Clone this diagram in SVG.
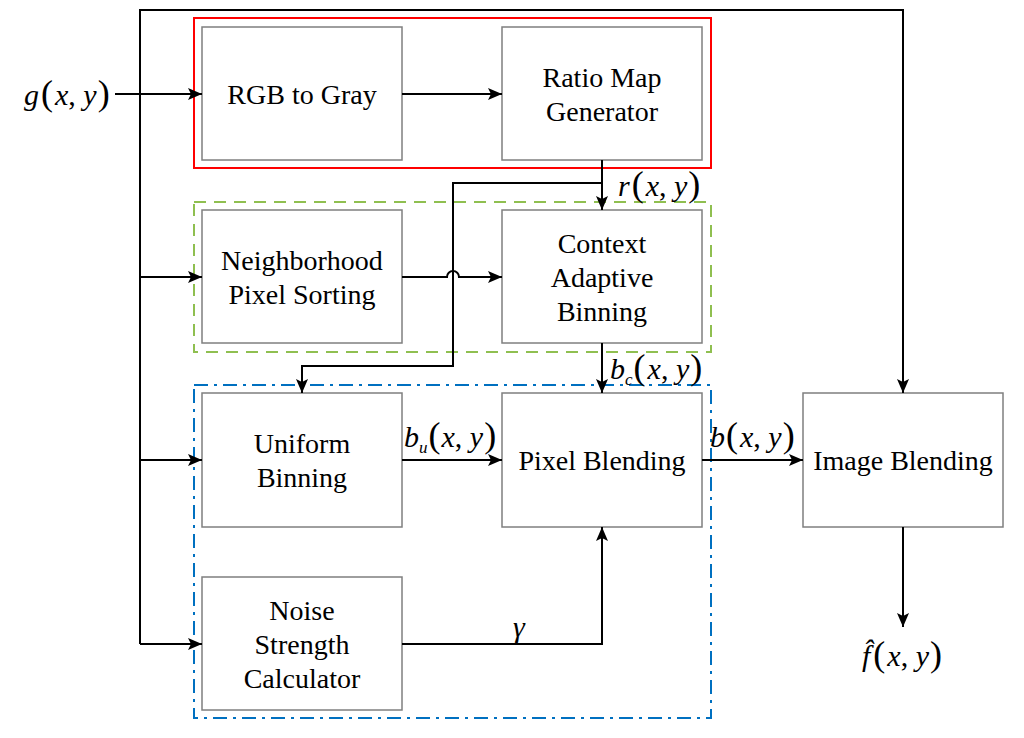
<svg xmlns="http://www.w3.org/2000/svg" width="1024" height="738" viewBox="0 0 1024 738">
<defs>
<marker id="ah" markerWidth="14" markerHeight="12" refX="14" refY="6" orient="auto" markerUnits="userSpaceOnUse">
<path d="M0,0 L14,6 L0,12 L3,6 Z" fill="#000"/>
</marker>
<style>
.box{fill:#fff;stroke:#7f7f7f;stroke-width:1.5}
.t{font-family:'Liberation Serif','Times New Roman',serif;font-size:28px;fill:#000;text-anchor:middle}
.m{font-family:'Liberation Serif','Times New Roman',serif;font-size:30px;fill:#000}
.i{font-style:italic}
.p{font-size:36px}
.c{fill:none;stroke:#000;stroke-width:2}
</style>
</defs>
<rect width="1024" height="738" fill="#fff"/>
<g id="groups">
<rect x="194" y="18" width="517" height="150" fill="none" stroke="#ff0000" stroke-width="2"/>
<rect x="194" y="202" width="517" height="150" fill="none" stroke="#8fbf50" stroke-width="2" stroke-dasharray="12,8"/>
<rect x="194" y="385" width="517" height="333" fill="none" stroke="#0070c0" stroke-width="2" stroke-dasharray="14,6,3,6"/>
</g>
<g id="rgb2gray"><rect class="box" x="202" y="27" width="200" height="133"/><text class="t" x="302" y="104">RGB to Gray</text></g>
<g id="ratiomap"><rect class="box" x="502" y="27" width="200" height="133"/><text class="t" x="602" y="87">Ratio Map</text><text class="t" x="602" y="121">Generator</text></g>
<g id="nps"><rect class="box" x="202" y="210" width="200" height="133"/><text class="t" x="302" y="270">Neighborhood</text><text class="t" x="302" y="304">Pixel Sorting</text></g>
<g id="cab"><rect class="box" x="502" y="210" width="200" height="133"/><text class="t" x="602" y="253">Context</text><text class="t" x="602" y="287">Adaptive</text><text class="t" x="602" y="321">Binning</text></g>
<g id="ub"><rect class="box" x="202" y="393" width="200" height="134"/><text class="t" x="302" y="453">Uniform</text><text class="t" x="302" y="487">Binning</text></g>
<g id="pb"><rect class="box" x="502" y="393" width="200" height="134"/><text class="t" x="602" y="470">Pixel Blending</text></g>
<g id="nsc"><rect class="box" x="202" y="577" width="200" height="133"/><text class="t" x="302" y="620">Noise</text><text class="t" x="302" y="654">Strength</text><text class="t" x="302" y="688">Calculator</text></g>
<g id="ib"><rect class="box" x="803" y="393" width="200" height="134"/><text class="t" x="903" y="470">Image Blending</text></g>
<g id="connectors">
<path class="c" d="M115,94 H202" marker-end="url(#ah)"/>
<path class="c" d="M140,644 V10 H903 V393" marker-end="url(#ah)"/>
<path class="c" d="M140,277 H202" marker-end="url(#ah)"/>
<path class="c" d="M140,460 H202" marker-end="url(#ah)"/>
<path class="c" d="M140,644 H202" marker-end="url(#ah)"/>
<path class="c" d="M402,94 H502" marker-end="url(#ah)"/>
<path class="c" d="M602,160 V210" marker-end="url(#ah)"/>
<path class="c" d="M602,183 H453 V366 H302 V393" marker-end="url(#ah)"/>
<path class="c" d="M402,277 H447 A6,6 0 0 1 459,277 H502" marker-end="url(#ah)"/>
<path class="c" d="M602,343 V393" marker-end="url(#ah)"/>
<path class="c" d="M402,460 H502" marker-end="url(#ah)"/>
<path class="c" d="M702,460 H803" marker-end="url(#ah)"/>
<path class="c" d="M402,644 H602 V527" marker-end="url(#ah)"/>
<path class="c" d="M903,527 V627" marker-end="url(#ah)"/>
</g>
<g id="labels">
<text class="m" x="24" y="105"><tspan class="i">g</tspan><tspan class="p" dx="2">(</tspan><tspan class="i" dx="2">x</tspan>, <tspan class="i">y</tspan><tspan class="p" dx="1">)</tspan></text>
<text class="m" x="618" y="196"><tspan class="i">r</tspan><tspan class="p" dx="2">(</tspan><tspan class="i" dx="2">x</tspan>, <tspan class="i">y</tspan><tspan class="p" dx="1">)</tspan></text>
<text class="m" x="610" y="379"><tspan class="i">b</tspan><tspan class="i" font-size="17" dy="6">c</tspan><tspan class="p" dy="-6" dx="1">(</tspan><tspan class="i" dx="2">x</tspan>, <tspan class="i">y</tspan><tspan class="p" dx="1">)</tspan></text>
<text class="m" x="404" y="447"><tspan class="i">b</tspan><tspan class="i" font-size="17" dy="6">u</tspan><tspan class="p" dy="-6" dx="1">(</tspan><tspan class="i" dx="1">x</tspan>, <tspan class="i">y</tspan><tspan class="p" dx="1">)</tspan></text>
<text class="m" x="710" y="447"><tspan class="i">b</tspan><tspan class="p" dx="1">(</tspan><tspan class="i" dx="2">x</tspan>, <tspan class="i">y</tspan><tspan class="p" dx="1">)</tspan></text>
<text class="m i" x="513" y="637">γ</text>
<text class="m" x="862" y="666"><tspan class="i">f̂</tspan><tspan class="p" dx="3">(</tspan><tspan class="i" dx="2">x</tspan>, <tspan class="i">y</tspan><tspan class="p" dx="1">)</tspan></text>
</g>
</svg>
